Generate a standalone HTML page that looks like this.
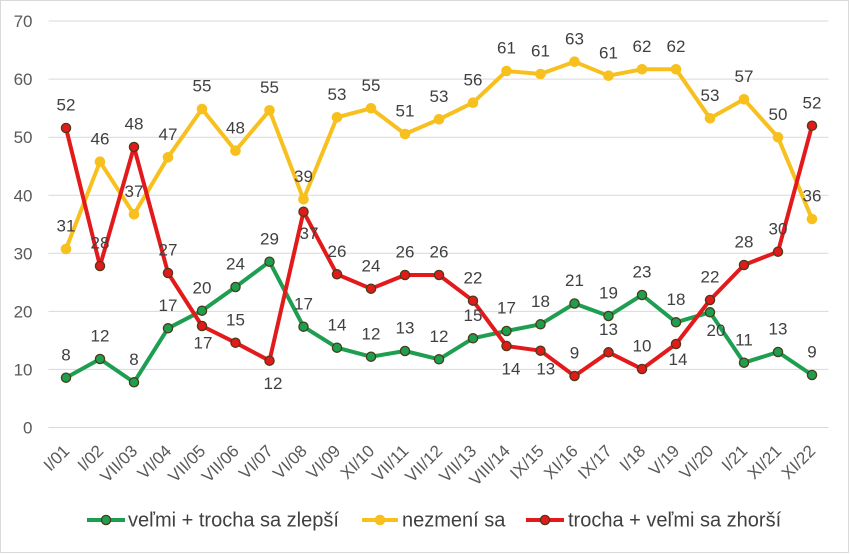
<!DOCTYPE html>
<html><head><meta charset="utf-8"><style>
html,body{margin:0;padding:0;background:#fff;}
svg{display:block;font-family:"Liberation Sans",Arial,sans-serif;}
.ax{font-size:17px;fill:#595959;}
.dl{font-size:17px;fill:#404040;text-anchor:middle;}
.lg{font-size:20px;fill:#404040;}
</style></head><body>
<svg width="850" height="554" viewBox="0 0 850 554" xmlns="http://www.w3.org/2000/svg">
<rect x="0.5" y="0.5" width="848" height="552" fill="#fff" stroke="#d9d9d9" stroke-width="1"/>
<g stroke="#d9d9d9" stroke-width="1">
<line x1="48.5" y1="21" x2="828.5" y2="21"/>
<line x1="48.5" y1="79.1" x2="828.5" y2="79.1"/>
<line x1="48.5" y1="137.2" x2="828.5" y2="137.2"/>
<line x1="48.5" y1="195.3" x2="828.5" y2="195.3"/>
<line x1="48.5" y1="253.3" x2="828.5" y2="253.3"/>
<line x1="48.5" y1="311.4" x2="828.5" y2="311.4"/>
<line x1="48.5" y1="369.4" x2="828.5" y2="369.4"/>
<line x1="48.5" y1="427.5" x2="828.5" y2="427.5"/>
</g>
<g class="ax" text-anchor="end">
<text x="32.5" y="27">70</text>
<text x="32.5" y="85.1">60</text>
<text x="32.5" y="143.2">50</text>
<text x="32.5" y="201.3">40</text>
<text x="32.5" y="259.3">30</text>
<text x="32.5" y="317.4">20</text>
<text x="32.5" y="375.4">10</text>
<text x="32.5" y="433.5">0</text>
</g>
<g class="ax" text-anchor="end">
<text transform="translate(70.5,452) rotate(-45)">I/01</text>
<text transform="translate(104.5,452) rotate(-45)">I/02</text>
<text transform="translate(138.5,452) rotate(-45)">VII/03</text>
<text transform="translate(172.5,452) rotate(-45)">VI/04</text>
<text transform="translate(206.5,452) rotate(-45)">VII/05</text>
<text transform="translate(240,452) rotate(-45)">VII/06</text>
<text transform="translate(274,452) rotate(-45)">VI/07</text>
<text transform="translate(308,452) rotate(-45)">VI/08</text>
<text transform="translate(341.5,452) rotate(-45)">VI/09</text>
<text transform="translate(375.5,452) rotate(-45)">XI/10</text>
<text transform="translate(409.5,452) rotate(-45)">VII/11</text>
<text transform="translate(443.5,452) rotate(-45)">VII/12</text>
<text transform="translate(477.5,452) rotate(-45)">VII/13</text>
<text transform="translate(511,452) rotate(-45)">VIII/14</text>
<text transform="translate(545,452) rotate(-45)">IX/15</text>
<text transform="translate(579,452) rotate(-45)">XI/16</text>
<text transform="translate(613,452) rotate(-45)">IX/17</text>
<text transform="translate(646.5,452) rotate(-45)">I/18</text>
<text transform="translate(680.5,452) rotate(-45)">V/19</text>
<text transform="translate(714.5,452) rotate(-45)">VI/20</text>
<text transform="translate(748.5,452) rotate(-45)">I/21</text>
<text transform="translate(782.5,452) rotate(-45)">XI/21</text>
<text transform="translate(816.5,452) rotate(-45)">XI/22</text>
</g>

<!-- green series -->
<polyline fill="none" stroke="#1e9e50" stroke-width="4" stroke-linejoin="round" points="66,377.7 100,359 134,382.3 168,328.3 202,310.7 235.5,287 269.5,261.7 303.5,326.7 337,347.7 371,356.7 405,351 439,359.3 473,338.3 506.5,331 540.5,324.3 574.5,303.5 608.5,316 642,295 676,322.3 710,312.3 744,362.7 778,352 812,375"/>
<g fill="#1e9e50" stroke="#4b3b17" stroke-width="1.3">
<circle cx="66" cy="377.7" r="4.6"/><circle cx="100" cy="359" r="4.6"/><circle cx="134" cy="382.3" r="4.6"/><circle cx="168" cy="328.3" r="4.6"/><circle cx="202" cy="310.7" r="4.6"/><circle cx="235.5" cy="287" r="4.6"/><circle cx="269.5" cy="261.7" r="4.6"/><circle cx="303.5" cy="326.7" r="4.6"/><circle cx="337" cy="347.7" r="4.6"/><circle cx="371" cy="356.7" r="4.6"/><circle cx="405" cy="351" r="4.6"/><circle cx="439" cy="359.3" r="4.6"/><circle cx="473" cy="338.3" r="4.6"/><circle cx="506.5" cy="331" r="4.6"/><circle cx="540.5" cy="324.3" r="4.6"/><circle cx="574.5" cy="303.5" r="4.6"/><circle cx="608.5" cy="316" r="4.6"/><circle cx="642" cy="295" r="4.6"/><circle cx="676" cy="322.3" r="4.6"/><circle cx="710" cy="312.3" r="4.6"/><circle cx="744" cy="362.7" r="4.6"/><circle cx="778" cy="352" r="4.6"/><circle cx="812" cy="375" r="4.6"/>
</g>

<!-- yellow series -->
<polyline fill="none" stroke="#f7c01e" stroke-width="4" stroke-linejoin="round" points="66,249 100,161.7 134,214.3 168,157.3 202,109 235.5,150.7 269.5,110.3 303.5,199.3 337,117.3 371,108.3 405,134 439,119.3 473,102.7 506.5,71 540.5,74 574.5,61.7 608.5,75.7 642,69.3 676,69.3 710,118.3 744,99.3 778,137.3 812,219"/>
<g fill="#f7c01e">
<circle cx="66" cy="249" r="5.3"/><circle cx="100" cy="161.7" r="5.3"/><circle cx="134" cy="214.3" r="5.3"/><circle cx="168" cy="157.3" r="5.3"/><circle cx="202" cy="109" r="5.3"/><circle cx="235.5" cy="150.7" r="5.3"/><circle cx="269.5" cy="110.3" r="5.3"/><circle cx="303.5" cy="199.3" r="5.3"/><circle cx="337" cy="117.3" r="5.3"/><circle cx="371" cy="108.3" r="5.3"/><circle cx="405" cy="134" r="5.3"/><circle cx="439" cy="119.3" r="5.3"/><circle cx="473" cy="102.7" r="5.3"/><circle cx="506.5" cy="71" r="5.3"/><circle cx="540.5" cy="74" r="5.3"/><circle cx="574.5" cy="61.7" r="5.3"/><circle cx="608.5" cy="75.7" r="5.3"/><circle cx="642" cy="69.3" r="5.3"/><circle cx="676" cy="69.3" r="5.3"/><circle cx="710" cy="118.3" r="5.3"/><circle cx="744" cy="99.3" r="5.3"/><circle cx="778" cy="137.3" r="5.3"/><circle cx="812" cy="219" r="5.3"/>
</g>

<!-- red series -->
<polyline fill="none" stroke="#e31a1c" stroke-width="4" stroke-linejoin="round" points="66,128 100,266 134,147 168,273 202,326 235.5,342.7 269.5,360.7 303.5,211.7 337,274.3 371,288.7 405,275 439,275 473,300.7 506.5,346 540.5,350.7 574.5,376 608.5,352.3 642,369 676,344 710,300 744,265 778,251.7 812,125.7"/>
<g fill="#e31a1c" stroke="#4b3b17" stroke-width="1.3">
<circle cx="66" cy="128" r="4.6"/><circle cx="100" cy="266" r="4.6"/><circle cx="134" cy="147" r="4.6"/><circle cx="168" cy="273" r="4.6"/><circle cx="202" cy="326" r="4.6"/><circle cx="235.5" cy="342.7" r="4.6"/><circle cx="269.5" cy="360.7" r="4.6"/><circle cx="303.5" cy="211.7" r="4.6"/><circle cx="337" cy="274.3" r="4.6"/><circle cx="371" cy="288.7" r="4.6"/><circle cx="405" cy="275" r="4.6"/><circle cx="439" cy="275" r="4.6"/><circle cx="473" cy="300.7" r="4.6"/><circle cx="506.5" cy="346" r="4.6"/><circle cx="540.5" cy="350.7" r="4.6"/><circle cx="574.5" cy="376" r="4.6"/><circle cx="608.5" cy="352.3" r="4.6"/><circle cx="642" cy="369" r="4.6"/><circle cx="676" cy="344" r="4.6"/><circle cx="710" cy="300" r="4.6"/><circle cx="744" cy="265" r="4.6"/><circle cx="778" cy="251.7" r="4.6"/><circle cx="812" cy="125.7" r="4.6"/>
</g>

<!-- green labels -->
<g class="dl">
<text x="66" y="360.4">8</text><text x="100" y="341.7">12</text><text x="134" y="365">8</text><text x="168" y="311">17</text><text x="202" y="293.4">20</text><text x="235.5" y="269.7">24</text><text x="269.5" y="244.4">29</text><text x="303.5" y="309.4">17</text><text x="337" y="330.4">14</text><text x="371" y="339.4">12</text><text x="405" y="333.7">13</text><text x="439" y="342">12</text><text x="473" y="321">15</text><text x="506.5" y="313.7">17</text><text x="540.5" y="307">18</text><text x="574.5" y="286.2">21</text><text x="608.5" y="298.7">19</text><text x="642" y="277.7">23</text><text x="676" y="305">18</text><text x="716" y="336">20</text><text x="744" y="345.4">11</text><text x="778" y="334.7">13</text><text x="812" y="357.7">9</text>
</g>
<!-- yellow labels -->
<g class="dl">
<text x="66" y="231.7">31</text><text x="100" y="144.4">46</text><text x="134" y="197">37</text><text x="168" y="140">47</text><text x="202" y="91.7">55</text><text x="235.5" y="133.4">48</text><text x="269.5" y="93">55</text><text x="303.5" y="182">39</text><text x="337" y="100">53</text><text x="371" y="91">55</text><text x="405" y="116.7">51</text><text x="439" y="102">53</text><text x="473" y="85.4">56</text><text x="506.5" y="53.7">61</text><text x="540.5" y="56.7">61</text><text x="574.5" y="44.4">63</text><text x="608.5" y="58.4">61</text><text x="642" y="52">62</text><text x="676" y="52">62</text><text x="710" y="101">53</text><text x="744" y="82">57</text><text x="778" y="120">50</text><text x="812" y="201.7">36</text>
</g>
<!-- red labels -->
<g class="dl">
<text x="66" y="110.7">52</text><text x="100" y="248.7">28</text><text x="134" y="129.7">48</text><text x="168" y="255.7">27</text><text x="203" y="348.3">17</text><text x="235.5" y="325.4">15</text><text x="273" y="389">12</text><text x="309" y="239">37</text><text x="337" y="257">26</text><text x="371" y="271.4">24</text><text x="405" y="257.7">26</text><text x="439" y="257.7">26</text><text x="473" y="283.4">22</text><text x="511" y="374.3">14</text><text x="545.8" y="374.3">13</text><text x="574.5" y="358.7">9</text><text x="608.5" y="335">13</text><text x="642" y="351.7">10</text><text x="678" y="365">14</text><text x="710" y="282.7">22</text><text x="744" y="247.7">28</text><text x="778" y="234.4">30</text><text x="812" y="108.4">52</text>
</g>

<!-- legend -->
<line x1="87" y1="520" x2="125" y2="520" stroke="#1e9e50" stroke-width="4"/>
<circle cx="106" cy="520" r="4.6" fill="#1e9e50" stroke="#4b3b17" stroke-width="1.3"/>
<text class="lg" x="128" y="526.5">veľmi + trocha sa zlepší</text>
<line x1="362" y1="520" x2="398" y2="520" stroke="#f7c01e" stroke-width="4"/>
<circle cx="380" cy="520" r="5.3" fill="#f7c01e"/>
<text class="lg" x="402" y="526.5">nezmení sa</text>
<line x1="526" y1="520" x2="564" y2="520" stroke="#e31a1c" stroke-width="4"/>
<circle cx="545" cy="520" r="4.6" fill="#e31a1c" stroke="#4b3b17" stroke-width="1.3"/>
<text class="lg" x="568" y="526.5">trocha + veľmi sa zhorší</text>
</svg>
</body></html>
